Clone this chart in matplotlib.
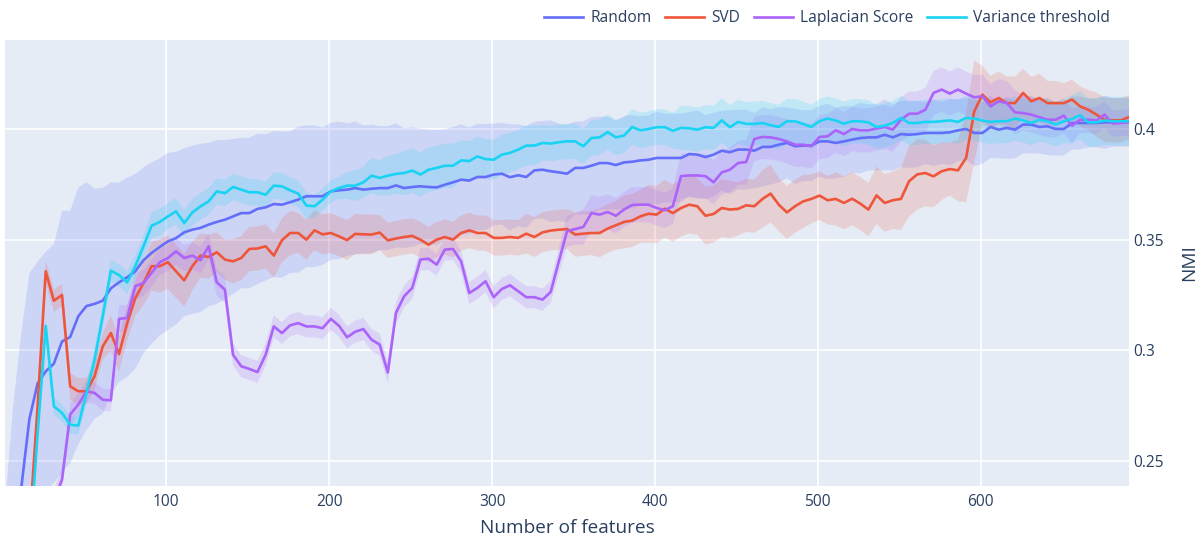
import numpy as np
import matplotlib.pyplot as plt

# Number of features (x positions)
n_features = np.arange(1, 692, 5)

random_mean = [
    0.16, 0.205, 0.238, 0.269, 0.285, 0.2905, 0.294, 0.304, 0.306, 0.3154,
    0.320, 0.321, 0.3224, 0.328, 0.3307, 0.333, 0.3357, 0.3407, 0.344, 0.3467,
    0.3492, 0.3507, 0.3533, 0.3545, 0.3553, 0.3568, 0.358, 0.359, 0.3605, 0.362,
    0.362, 0.3639, 0.3646, 0.3661, 0.3658, 0.3669, 0.3681, 0.3696, 0.3696, 0.3696,
    0.3718, 0.3723, 0.3726, 0.3733, 0.3726, 0.373, 0.3733, 0.3733, 0.3745, 0.3733,
    0.3738, 0.3741, 0.3738, 0.3736, 0.3748, 0.3759, 0.3771, 0.3767, 0.3783, 0.3783,
    0.3794, 0.3798, 0.3782, 0.3791, 0.3783, 0.3813, 0.3816, 0.3809, 0.3804, 0.3798,
    0.3824, 0.3824, 0.3834, 0.3846, 0.3846, 0.3837, 0.3849, 0.3852, 0.3858, 0.3861,
    0.3869, 0.3869, 0.3869, 0.3869, 0.3887, 0.3884, 0.3873, 0.3884, 0.3902, 0.3895,
    0.3907, 0.3907, 0.3902, 0.3919, 0.3919, 0.3929, 0.3937, 0.3922, 0.3925, 0.3925,
    0.3944, 0.3944, 0.3937, 0.3944, 0.3952, 0.3959, 0.3962, 0.3962, 0.3974, 0.3962,
    0.3977, 0.3974, 0.3977, 0.3982, 0.3982, 0.3982, 0.3985, 0.3994, 0.400, 0.3982,
    0.3982, 0.4009, 0.3997, 0.4005, 0.3997, 0.402, 0.402, 0.4009, 0.4012, 0.400,
    0.400, 0.4027, 0.4027, 0.4027, 0.4027, 0.403, 0.403, 0.403, 0.403,
]
random_err = [
    0.070, 0.070, 0.070, 0.066, 0.055, 0.054, 0.054, 0.059, 0.057, 0.058,
    0.056, 0.052, 0.051, 0.048, 0.045, 0.045, 0.044, 0.042, 0.041, 0.040,
    0.040, 0.039, 0.038, 0.038, 0.038, 0.037, 0.037, 0.036, 0.035, 0.034,
    0.034, 0.034, 0.033, 0.033, 0.033, 0.032, 0.033, 0.032, 0.032, 0.031,
    0.031, 0.031, 0.030, 0.030, 0.029, 0.029, 0.028, 0.028, 0.028, 0.027,
    0.027, 0.026, 0.026, 0.026, 0.025, 0.025, 0.025, 0.024, 0.024, 0.024,
    0.023, 0.023, 0.024, 0.023, 0.023, 0.022, 0.022, 0.023, 0.022, 0.022,
    0.021, 0.021, 0.022, 0.021, 0.021, 0.020, 0.021, 0.021, 0.020, 0.020,
    0.021, 0.020, 0.020, 0.020, 0.019, 0.020, 0.019, 0.019, 0.018, 0.019,
    0.018, 0.018, 0.017, 0.018, 0.017, 0.017, 0.016, 0.017, 0.016, 0.016,
    0.016, 0.017, 0.016, 0.016, 0.015, 0.016, 0.015, 0.015, 0.016, 0.015,
    0.015, 0.015, 0.015, 0.014, 0.015, 0.014, 0.015, 0.014, 0.014, 0.015,
    0.014, 0.014, 0.013, 0.014, 0.013, 0.013, 0.013, 0.012, 0.013, 0.012,
    0.012, 0.012, 0.012, 0.011, 0.011, 0.012, 0.011, 0.011, 0.011,
]

svd_mean = [
    0.12, 0.15, 0.19, 0.22, 0.2747, 0.3357, 0.3224, 0.325, 0.2837, 0.2815,
    0.2815, 0.2883, 0.3018, 0.3078, 0.2983, 0.3123, 0.3236, 0.3304, 0.338, 0.338,
    0.3398, 0.3357, 0.3316, 0.338, 0.3428, 0.3422, 0.3443, 0.341, 0.3402, 0.3417,
    0.3458, 0.346, 0.347, 0.3428, 0.3497, 0.353, 0.353, 0.350, 0.3542, 0.3524,
    0.353, 0.3515, 0.3498, 0.3526, 0.3524, 0.3523, 0.3532, 0.3497, 0.3505, 0.3512,
    0.3517, 0.350, 0.3477, 0.350, 0.3512, 0.350, 0.353, 0.3542, 0.353, 0.353,
    0.3508, 0.3508, 0.3512, 0.3508, 0.3527, 0.3512, 0.3533, 0.3541, 0.3545, 0.3548,
    0.3523, 0.3527, 0.353, 0.353, 0.355, 0.3565, 0.358, 0.3586, 0.3605, 0.3617,
    0.3613, 0.364, 0.362, 0.3643, 0.3658, 0.3651, 0.3608, 0.3616, 0.3643, 0.3636,
    0.3639, 0.3655, 0.3651, 0.3684, 0.3708, 0.3658, 0.3623, 0.3651, 0.3673, 0.3684,
    0.3699, 0.3678, 0.3684, 0.3666, 0.3685, 0.3663, 0.3636, 0.370, 0.3666, 0.3678,
    0.3684, 0.3764, 0.3795, 0.3801, 0.3786, 0.3809, 0.3819, 0.3813, 0.3869, 0.408,
    0.4155, 0.412, 0.414, 0.4117, 0.4117, 0.4163, 0.4125, 0.414, 0.4117, 0.4117,
    0.4117, 0.4133, 0.4102, 0.4087, 0.4065, 0.4042, 0.4039, 0.4039, 0.4054,
]
svd_err = [
    0.004, 0.004, 0.004, 0.004, 0.004, 0.005, 0.005, 0.005, 0.006, 0.006,
    0.006, 0.006, 0.006, 0.008, 0.008, 0.008, 0.008, 0.010, 0.011, 0.012,
    0.012, 0.012, 0.012, 0.011, 0.010, 0.010, 0.009, 0.009, 0.010, 0.010,
    0.010, 0.010, 0.010, 0.010, 0.010, 0.010, 0.009, 0.009, 0.009, 0.009,
    0.009, 0.009, 0.009, 0.009, 0.009, 0.009, 0.008, 0.008, 0.008, 0.008,
    0.008, 0.008, 0.008, 0.008, 0.008, 0.008, 0.008, 0.008, 0.008, 0.008,
    0.008, 0.008, 0.008, 0.008, 0.009, 0.009, 0.009, 0.009, 0.009, 0.009,
    0.010, 0.010, 0.010, 0.011, 0.011, 0.011, 0.012, 0.012, 0.012, 0.013,
    0.013, 0.013, 0.013, 0.013, 0.013, 0.013, 0.013, 0.013, 0.013, 0.013,
    0.012, 0.012, 0.012, 0.013, 0.013, 0.012, 0.012, 0.012, 0.012, 0.011,
    0.011, 0.011, 0.012, 0.012, 0.012, 0.012, 0.012, 0.013, 0.013, 0.013,
    0.014, 0.016, 0.016, 0.015, 0.014, 0.013, 0.012, 0.014, 0.020, 0.023,
    0.013, 0.012, 0.012, 0.012, 0.012, 0.011, 0.011, 0.011, 0.010, 0.010,
    0.009, 0.009, 0.009, 0.009, 0.010, 0.010, 0.010, 0.010, 0.010,
]

laplacian_mean = [
    0.10, 0.12, 0.15, 0.18, 0.20, 0.215, 0.232, 0.2416, 0.271, 0.2755,
    0.2815, 0.2807, 0.2777, 0.2774, 0.3142, 0.3146, 0.329, 0.3304, 0.335, 0.3398,
    0.3417, 0.3447, 0.3417, 0.3428, 0.3407, 0.347, 0.3307, 0.3274, 0.298, 0.2928,
    0.2916, 0.2902, 0.298, 0.3108, 0.3078, 0.3113, 0.3123, 0.3108, 0.3108, 0.310,
    0.3142, 0.3111, 0.3059, 0.3084, 0.3096, 0.3048, 0.3026, 0.290, 0.3169, 0.3244,
    0.3282, 0.341, 0.3414, 0.3387, 0.3455, 0.3458, 0.3402, 0.3259, 0.3282, 0.3312,
    0.324, 0.3277, 0.3294, 0.3267, 0.324, 0.324, 0.3229, 0.3264, 0.3402, 0.3538,
    0.3548, 0.3557, 0.362, 0.3613, 0.3625, 0.3608, 0.3636, 0.3657, 0.3658, 0.3658,
    0.3643, 0.3633, 0.3651, 0.3787, 0.379, 0.379, 0.3787, 0.3759, 0.3804, 0.3816,
    0.3846, 0.3851, 0.3955, 0.3964, 0.3962, 0.3955, 0.3944, 0.3929, 0.3929, 0.3922,
    0.3964, 0.3967, 0.3994, 0.3977, 0.400, 0.3994, 0.3994, 0.4002, 0.4009, 0.3997,
    0.4042, 0.4069, 0.4069, 0.4087, 0.4163, 0.4178, 0.416, 0.4178, 0.416, 0.4143,
    0.4148, 0.4102, 0.4125, 0.4117, 0.4075, 0.4072, 0.4065, 0.4053, 0.4042, 0.4042,
    0.406, 0.4015, 0.4042, 0.4042, 0.4038, 0.4065, 0.4024, 0.4027, 0.403,
]
laplacian_err = [
    0.005, 0.005, 0.005, 0.005, 0.005, 0.005, 0.005, 0.005, 0.005, 0.005,
    0.005, 0.005, 0.005, 0.005, 0.006, 0.006, 0.006, 0.006, 0.006, 0.006,
    0.006, 0.006, 0.006, 0.006, 0.006, 0.006, 0.006, 0.006, 0.005, 0.005,
    0.005, 0.005, 0.005, 0.005, 0.005, 0.005, 0.005, 0.005, 0.005, 0.005,
    0.005, 0.005, 0.005, 0.005, 0.005, 0.005, 0.005, 0.005, 0.005, 0.005,
    0.005, 0.005, 0.005, 0.005, 0.005, 0.005, 0.005, 0.005, 0.005, 0.005,
    0.005, 0.005, 0.005, 0.005, 0.005, 0.005, 0.005, 0.005, 0.006, 0.007,
    0.007, 0.008, 0.008, 0.008, 0.008, 0.008, 0.008, 0.008, 0.008, 0.008,
    0.008, 0.008, 0.008, 0.010, 0.010, 0.010, 0.010, 0.010, 0.010, 0.010,
    0.010, 0.010, 0.010, 0.010, 0.010, 0.010, 0.010, 0.010, 0.010, 0.010,
    0.010, 0.010, 0.010, 0.010, 0.010, 0.010, 0.010, 0.010, 0.010, 0.010,
    0.010, 0.010, 0.010, 0.010, 0.010, 0.010, 0.010, 0.010, 0.010, 0.010,
    0.010, 0.010, 0.010, 0.010, 0.010, 0.008, 0.008, 0.008, 0.008, 0.008,
    0.008, 0.008, 0.006, 0.006, 0.006, 0.006, 0.006, 0.006, 0.006,
]

variance_mean = [
    0.10, 0.12, 0.15, 0.21, 0.262, 0.311, 0.2747, 0.2717, 0.2664, 0.266,
    0.2807, 0.2958, 0.3154, 0.336, 0.334, 0.3307, 0.338, 0.347, 0.3563, 0.358,
    0.3605, 0.3628, 0.3575, 0.3623, 0.365, 0.3673, 0.3718, 0.371, 0.3738, 0.3726,
    0.3714, 0.3714, 0.3703, 0.3744, 0.3741, 0.3723, 0.3708, 0.3654, 0.3651, 0.3681,
    0.3718, 0.3733, 0.3744, 0.3744, 0.3759, 0.3789, 0.3779, 0.3789, 0.3797, 0.3801,
    0.3812, 0.3794, 0.3816, 0.3824, 0.3834, 0.3834, 0.3858, 0.3855, 0.3876, 0.3864,
    0.3861, 0.3884, 0.3892, 0.3907, 0.3925, 0.3925, 0.3937, 0.3934, 0.394, 0.3944,
    0.3944, 0.3922, 0.3959, 0.3962, 0.3986, 0.3962, 0.397, 0.4009, 0.3994, 0.400,
    0.4008, 0.4008, 0.3992, 0.4005, 0.4003, 0.3997, 0.4008, 0.4005, 0.4039, 0.4008,
    0.4032, 0.4023, 0.4023, 0.4027, 0.4017, 0.4009, 0.4035, 0.4035, 0.4023, 0.4009,
    0.4035, 0.4047, 0.4038, 0.4024, 0.4035, 0.4035, 0.403, 0.4009, 0.4015, 0.4027,
    0.405, 0.4027, 0.4027, 0.4032, 0.4032, 0.4035, 0.4039, 0.4032, 0.405, 0.4047,
    0.4038, 0.4032, 0.4035, 0.4035, 0.4047, 0.4039, 0.4027, 0.4042, 0.4035, 0.402,
    0.4035, 0.4045, 0.4062, 0.403, 0.403, 0.4038, 0.4035, 0.4035, 0.4035,
]
variance_err = [
    0.004, 0.004, 0.004, 0.004, 0.004, 0.004, 0.004, 0.004, 0.004, 0.004,
    0.005, 0.005, 0.005, 0.005, 0.005, 0.005, 0.005, 0.005, 0.006, 0.006,
    0.006, 0.006, 0.006, 0.006, 0.006, 0.006, 0.006, 0.006, 0.006, 0.006,
    0.006, 0.006, 0.006, 0.006, 0.006, 0.006, 0.006, 0.006, 0.005, 0.005,
    0.005, 0.005, 0.006, 0.007, 0.007, 0.008, 0.008, 0.009, 0.009, 0.010,
    0.010, 0.010, 0.010, 0.010, 0.010, 0.010, 0.009, 0.009, 0.009, 0.009,
    0.009, 0.009, 0.009, 0.009, 0.009, 0.009, 0.008, 0.008, 0.008, 0.008,
    0.008, 0.008, 0.008, 0.008, 0.008, 0.008, 0.008, 0.008, 0.008, 0.008,
    0.008, 0.008, 0.008, 0.010, 0.010, 0.010, 0.010, 0.010, 0.010, 0.010,
    0.010, 0.010, 0.010, 0.010, 0.010, 0.010, 0.010, 0.010, 0.010, 0.010,
    0.010, 0.010, 0.010, 0.010, 0.010, 0.010, 0.010, 0.010, 0.010, 0.010,
    0.010, 0.010, 0.010, 0.010, 0.010, 0.010, 0.010, 0.010, 0.010, 0.010,
    0.010, 0.010, 0.010, 0.010, 0.010, 0.010, 0.010, 0.010, 0.010, 0.010,
    0.010, 0.011, 0.011, 0.011, 0.011, 0.011, 0.011, 0.011, 0.011,
]

series_names = ['Random', 'SVD', 'Laplacian Score', 'Variance threshold']
series_means = [random_mean, svd_mean, laplacian_mean, variance_mean]
series_errs = [random_err, svd_err, laplacian_err, variance_err]
colors = ['#636efa', '#ef553b', '#ab63fa', '#19d3f3']

plt.rcParams['font.family'] = ['Open Sans', 'DejaVu Sans']
text_color = '#2a3f5f'

fig = plt.figure(figsize=(12.02, 5.38), dpi=100)
ax = fig.add_axes([5 / 1202, 1 - 486 / 538, 1124 / 1202, 446 / 538])
ax.set_facecolor('#e5ecf6')

for name, mean, err, col in zip(series_names, series_means, series_errs, colors):
    m = np.array(mean)
    e = np.array(err)
    ax.fill_between(n_features, m - e, m + e, color=col, alpha=0.18, lw=0)
    ax.plot(n_features, m, color=col, lw=1.9, label=name)

ax.set_xlim(1, 691)
ax.set_ylim(0.2387, 0.4402)
ax.set_xticks([100, 200, 300, 400, 500, 600])
ax.set_yticks([0.25, 0.3, 0.35, 0.4])
ax.set_yticklabels(['0.25', '0.3', '0.35', '0.4'])
ax.yaxis.tick_right()
ax.yaxis.set_label_position('right')
ax.grid(color='white', lw=1.2)
ax.set_axisbelow(True)
for s in ax.spines.values():
    s.set_visible(False)
ax.tick_params(length=0, labelsize=11.2, colors=text_color, pad=3)
ax.tick_params(axis='x', pad=6)

ax.set_xlabel('Number of features', fontsize=13.7, color=text_color, labelpad=6)
ax.set_ylabel('NMI', fontsize=13.7, color=text_color, labelpad=12)

fig.legend(loc='center right', bbox_to_anchor=(1124 / 1202, 1 - 18 / 538),
           ncol=4, frameon=False, fontsize=11.2, handlelength=2.5,
           handletextpad=0.45, columnspacing=0.9, labelcolor=text_color)

fig.savefig('out.png', dpi=100)
